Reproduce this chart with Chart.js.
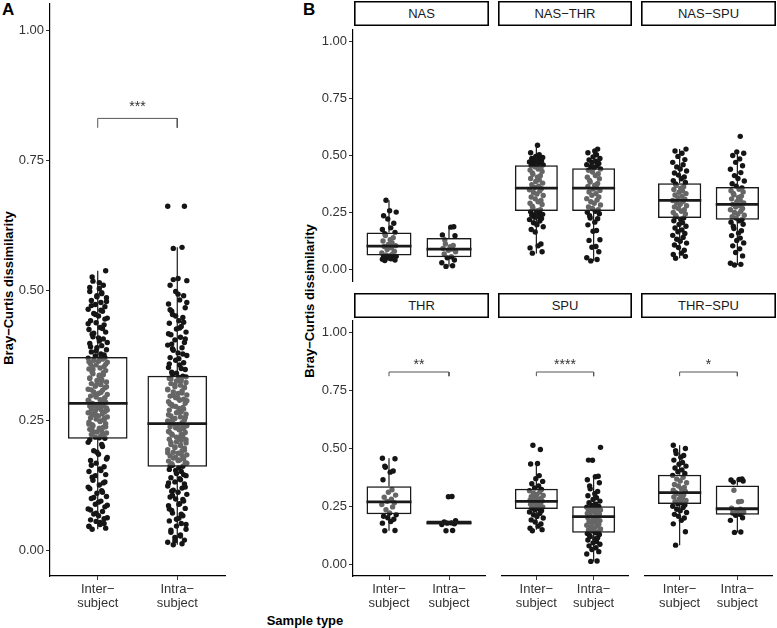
<!DOCTYPE html>
<html>
<head>
<meta charset="utf-8">
<script src="https://cdn.jsdelivr.net/npm/chart.js@4.4.0/dist/chart.umd.min.js"></script>
<style>
body{margin:0;width:777px;height:628px;position:relative;background:#fff;font-family:"Liberation Sans",Arial,sans-serif;overflow:hidden}
canvas{position:absolute}
.strip{position:absolute;box-sizing:border-box;border:1px solid #000;box-shadow:inset 0 0 0 0.6px #000;height:25px;font-size:13px;color:#1a1a1a;text-align:center;line-height:23px}
.tag{position:absolute;font-weight:bold;font-size:17px;color:#000}
.ytitle{position:absolute;font-weight:bold;font-size:13px;color:#000;white-space:nowrap;transform:translate(-50%,-50%) rotate(-90deg)}
.xtitle{position:absolute;font-weight:bold;font-size:13px;color:#000;white-space:nowrap;transform:translate(-50%,-50%)}
</style>
</head>
<body>
<div class="tag" style="left:2px;top:0px">A</div>
<div class="tag" style="left:303px;top:0px">B</div>
<div class="ytitle" style="left:8px;top:288px">Bray−Curtis dissimilarity</div>
<div class="ytitle" style="left:309px;top:301px">Bray−Curtis dissimilarity</div>
<div class="xtitle" style="left:305px;top:620px">Sample type</div>

<div class="strip" style="left:354px;top:1px;width:135px">NAS</div>
<div class="strip" style="left:498px;top:1px;width:134px">NAS−THR</div>
<div class="strip" style="left:641px;top:1px;width:135px">NAS−SPU</div>
<div class="strip" style="left:354px;top:293px;width:135px">THR</div>
<div class="strip" style="left:498px;top:293px;width:134px">SPU</div>
<div class="strip" style="left:641px;top:293px;width:135px">THR−SPU</div>

<canvas id="panelA" width="224" height="616" style="left:5px;top:0px"></canvas>
<canvas id="nas" width="181" height="259" style="left:308px;top:26px"></canvas>
<canvas id="nasThr" width="134" height="259" style="left:498px;top:26px"></canvas>
<canvas id="nasSpu" width="135" height="259" style="left:641px;top:26px"></canvas>
<canvas id="thr" width="181" height="299" style="left:308px;top:317px"></canvas>
<canvas id="spu" width="134" height="299" style="left:498px;top:317px"></canvas>
<canvas id="thrSpu" width="135" height="299" style="left:641px;top:317px"></canvas>

<script>
// tick labels and categories
var yTicks = [0, 0.25, 0.5, 0.75, 1];
var xLabels = [["Inter−", "subject"], ["Intra−", "subject"]];

// box stats per group: [lower whisker, q1, median, q3, upper whisker]
var statsA      = [[0.040, 0.214, 0.282, 0.371, 0.537], [0.010, 0.160, 0.243, 0.335, 0.582]];
var statsNAS    = [[0.040, 0.062, 0.103, 0.163, 0.304], [0.014, 0.054, 0.090, 0.138, 0.188]];
var statsNASTHR = [[0.070, 0.257, 0.357, 0.457, 0.537], [0.038, 0.257, 0.357, 0.444, 0.528]];
var statsNASSPU = [[0.050, 0.226, 0.303, 0.378, 0.528], [0.020, 0.218, 0.286, 0.362, 0.516]];
var statsTHR    = [[0.145, 0.216, 0.270, 0.337, 0.458], [0.172, 0.172, 0.179, 0.189, 0.189]];
var statsSPU    = [[0.150, 0.239, 0.272, 0.326, 0.435], [0.013, 0.137, 0.206, 0.251, 0.380]];
var statsTHRSPU = [[0.083, 0.261, 0.310, 0.387, 0.514], [0.138, 0.214, 0.240, 0.340, 0.369]];

// significance labels
var sigA = "***", sigTHR = "**", sigSPU = "****", sigTHRSPU = "*";

// individual dissimilarities (jittered points)
var aInter = [0.040,0.042,0.046,0.049,0.051,0.055,0.058,0.062,0.066,0.069,0.074,0.079,0.083,0.088,0.094,0.099,0.103,0.109,0.114,0.118,0.125,0.129,0.134,0.140,0.145,0.151,0.156,0.160,0.167,0.172,0.178,0.184,0.191,0.199,0.207,
  0.215,0.217,0.220,0.222,0.225,0.227,0.229,0.232,0.234,0.236,0.239,0.241,0.243,0.246,0.248,0.250,0.252,0.254,0.256,0.258,0.260,0.262,0.264,0.266,0.268,0.270,0.271,0.273,0.275,0.276,0.277,0.279,0.280,0.281,0.282,
  0.284,0.286,0.289,0.291,0.294,0.296,0.299,0.301,0.304,0.307,0.309,0.312,0.315,0.318,0.320,0.323,0.326,0.328,0.331,0.334,0.337,0.339,0.342,0.345,0.348,0.350,0.353,0.356,0.358,0.361,0.363,0.365,0.367,0.369,0.370,
  0.373,0.377,0.381,0.385,0.389,0.393,0.397,0.402,0.406,0.410,0.415,0.419,0.424,0.428,0.433,0.437,0.441,0.446,0.450,0.455,0.459,0.463,0.468,0.472,0.476,0.480,0.485,0.489,0.493,0.497,0.503,0.509,0.517,0.525,0.537,
  0.045,0.053,0.060,0.071,0.077,0.086,0.092,0.101,0.111,0.121,0.131,0.143,0.153,0.163,0.175,0.188,0.203,0.212,
  0.216,0.221,0.226,0.231,0.237,0.242,0.247,0.253,0.259,0.263,0.269,0.274,0.278,0.283,0.288,0.293,0.298,0.303,0.308,0.314,0.319,0.325,0.330,0.336,0.341,0.347,0.352,0.357,0.362,0.368,
  0.375,0.383,0.391,0.399,0.408,0.417,0.426,0.435,0.444,0.453,0.461,0.470,0.478,0.487,0.495,0.505,0.514];
var aIntra = [0.010,0.012,0.015,0.019,0.024,0.029,0.034,0.040,0.046,0.051,0.056,0.061,0.066,0.071,0.076,0.080,0.085,0.089,0.094,0.098,0.102,0.107,0.111,0.115,0.119,0.123,0.127,0.131,0.135,0.139,0.143,0.147,0.151,0.155,0.158,
  0.161,0.163,0.166,0.168,0.171,0.173,0.176,0.178,0.181,0.183,0.186,0.188,0.191,0.193,0.196,0.198,0.201,0.203,0.206,0.208,0.211,0.213,0.216,0.218,0.221,0.223,0.226,0.228,0.231,0.233,0.235,0.237,0.239,0.241,0.243,
  0.245,0.248,0.250,0.253,0.256,0.258,0.261,0.264,0.266,0.269,0.272,0.274,0.277,0.280,0.282,0.285,0.288,0.290,0.293,0.296,0.298,0.301,0.304,0.306,0.309,0.312,0.314,0.317,0.320,0.322,0.325,0.327,0.330,0.332,0.334,
  0.338,0.342,0.347,0.351,0.356,0.360,0.365,0.370,0.374,0.379,0.384,0.389,0.394,0.399,0.404,0.409,0.414,0.419,0.425,0.430,0.436,0.441,0.447,0.453,0.459,0.466,0.473,0.481,0.489,0.497,0.509,0.518,0.522,0.580,0.582,0.661,0.661,
  0.018,0.027,0.038,0.049,0.059,0.069,0.079,0.088,0.097,0.105,0.113,0.121,0.129,0.137,0.145,0.153,
  0.162,0.167,0.172,0.177,0.182,0.187,0.192,0.197,0.202,0.207,0.212,0.217,0.222,0.227,0.232,0.238,0.244,0.249,0.255,0.260,0.265,0.271,0.276,0.281,0.287,0.292,0.297,0.302,0.308,0.313,0.318,0.324,0.329,0.333,
  0.340,0.349,0.358,0.368,0.377,0.387,0.396,0.406,0.416,0.427,0.438,0.450,0.462,0.476,0.492,0.520];
var nasInter = [0.040,0.042,0.045,0.047,0.050,0.052,0.055,0.058,0.061,0.064,0.068,0.073,0.080,0.088,0.096,0.101,0.105,0.110,0.118,0.125,0.131,0.140,0.149,0.157,0.163,0.176,0.183,0.203,0.222,0.236,0.252,0.258,0.304];
var nasIntra = [0.014,0.017,0.030,0.042,0.052,0.056,0.068,0.078,0.085,0.090,0.093,0.100,0.106,0.112,0.130,0.148,0.152,0.186,0.188];
var nasThrInter = [0.072,0.078,0.095,0.104,0.112,0.165,0.176,0.188,0.197,0.205,0.213,0.219,0.224,0.229,0.233,0.238,0.242,0.246,0.250,0.254,0.258,0.263,0.270,0.278,0.285,0.291,0.297,0.303,0.310,0.318,0.325,0.331,0.338,0.344,0.350,0.355,0.360,0.366,0.372,0.379,0.386,0.393,0.399,0.405,0.411,0.418,0.424,0.430,0.436,0.441,0.446,0.450,0.455,0.459,0.462,0.466,0.469,0.472,0.476,0.479,0.483,0.487,0.491,0.496,0.503,0.512,0.545];
var nasThrIntra = [0.038,0.044,0.052,0.078,0.098,0.101,0.128,0.131,0.168,0.171,0.196,0.208,0.223,0.226,0.236,0.245,0.251,0.256,0.262,0.268,0.275,0.283,0.291,0.297,0.305,0.311,0.318,0.326,0.333,0.340,0.347,0.353,0.358,0.364,0.370,0.377,0.384,0.391,0.398,0.405,0.412,0.420,0.428,0.435,0.441,0.446,0.451,0.456,0.460,0.465,0.470,0.475,0.481,0.487,0.494,0.503,0.512,0.520,0.528];
var nasSpuInter = [0.050,0.058,0.066,0.072,0.085,0.097,0.108,0.116,0.124,0.133,0.141,0.150,0.158,0.166,0.174,0.182,0.190,0.198,0.206,0.214,0.220,0.226,0.232,0.238,0.244,0.250,0.256,0.262,0.268,0.274,0.280,0.286,0.292,0.298,0.303,0.309,0.315,0.321,0.327,0.333,0.339,0.345,0.351,0.357,0.363,0.369,0.375,0.382,0.390,0.398,0.406,0.414,0.423,0.432,0.441,0.450,0.460,0.470,0.482,0.496,0.510,0.520,0.528];
var nasSpuIntra = [0.020,0.023,0.028,0.060,0.075,0.091,0.104,0.117,0.128,0.138,0.149,0.160,0.170,0.180,0.190,0.199,0.208,0.214,0.220,0.226,0.232,0.238,0.244,0.250,0.256,0.262,0.268,0.274,0.280,0.286,0.292,0.298,0.304,0.310,0.316,0.322,0.328,0.334,0.340,0.346,0.352,0.358,0.366,0.376,0.388,0.399,0.412,0.425,0.440,0.455,0.470,0.485,0.500,0.510,0.516,0.584];
var thrInter = [0.145,0.146,0.178,0.185,0.195,0.201,0.208,0.214,0.222,0.236,0.248,0.258,0.266,0.272,0.281,0.290,0.299,0.311,0.322,0.365,0.398,0.403,0.419,0.424,0.456,0.458];
var thrIntra = [0.145,0.146,0.172,0.175,0.178,0.179,0.183,0.189,0.292,0.293];
var spuInter = [0.145,0.150,0.156,0.165,0.174,0.183,0.192,0.200,0.207,0.214,0.220,0.226,0.231,0.236,0.240,0.244,0.248,0.252,0.256,0.259,0.262,0.265,0.268,0.271,0.274,0.277,0.280,0.284,0.288,0.292,0.297,0.302,0.307,0.312,0.318,0.323,0.330,0.338,0.348,0.358,0.370,0.383,0.433,0.435,0.496,0.514];
var spuIntra = [0.013,0.015,0.045,0.055,0.064,0.072,0.080,0.087,0.093,0.099,0.105,0.110,0.115,0.120,0.125,0.129,0.133,0.137,0.141,0.145,0.149,0.153,0.157,0.161,0.165,0.169,0.173,0.177,0.181,0.185,0.189,0.193,0.197,0.201,0.205,0.208,0.211,0.214,0.217,0.220,0.223,0.226,0.229,0.232,0.235,0.238,0.241,0.244,0.247,0.250,0.254,0.260,0.266,0.273,0.280,0.288,0.296,0.305,0.315,0.326,0.338,0.352,0.365,0.378,0.380,0.449,0.450,0.505];
var thrSpuInter = [0.083,0.141,0.175,0.190,0.200,0.208,0.216,0.224,0.231,0.238,0.245,0.251,0.256,0.261,0.266,0.271,0.276,0.281,0.286,0.291,0.296,0.300,0.305,0.310,0.315,0.320,0.326,0.332,0.338,0.345,0.352,0.360,0.368,0.376,0.384,0.392,0.400,0.408,0.416,0.424,0.432,0.440,0.450,0.462,0.470,0.478,0.490,0.500,0.514];
var thrSpuIntra = [0.138,0.140,0.190,0.201,0.212,0.216,0.222,0.226,0.232,0.238,0.242,0.270,0.272,0.320,0.355,0.360,0.364,0.366,0.369];

// horizontal jitter offsets (category units), cycled through
var jitter = [-0.07,0.10,-0.11,0.03,0.08,-0.02,-0.09,0.12,0.01,-0.05,0.06,-0.12,0.09,-0.03,0.04,-0.08,0.11,-0.01,0.05,-0.10,0.02,0.07,-0.06];

Chart.defaults.font.family = '"Liberation Sans", Arial, sans-serif';
Chart.defaults.animation = false;

var sigPlugin = {
    id: 'sigText',
    afterDatasetsDraw: function(chart, args, opts)
    {
        if (!opts.text) return;
        var ctx = chart.ctx;
        ctx.save();
        ctx.font = '14px "Liberation Sans", Arial, sans-serif';
        ctx.fillStyle = '#333';
        ctx.textAlign = 'center';
        ctx.textBaseline = 'alphabetic';
        ctx.fillText(opts.text, chart.scales.x.getPixelForValue(1.5), chart.scales.y.getPixelForValue(0.83) - opts.gap);
        ctx.restore();
    }
};

function segment(points, width, order, color)
{
    return {
        type: 'line',
        order: order,
        data: points.map(function(p) { return {x: p[0], y: p[1]}; }),
        borderColor: color || '#1a1a1a',
        borderWidth: width,
        pointRadius: 0,
        fill: false
    };
}

function BoxPanel(id, stats, groups, o)
{
    var datasets = [];
    groups.forEach(function(vals, g)
    {
        datasets.push({
            type: 'scatter',
            order: 6,
            data: vals.map(function(v, i) { return {x: g + 1 + jitter[(i + g * 9) % jitter.length], y: v}; }),
            pointRadius: 2.7,
            pointBackgroundColor: '#151515',
            pointBorderWidth: 0
        });
    });
    stats.forEach(function(s, g)
    {
        var x = g + 1;
        datasets.push(segment([[x, s[3]], [x, s[4]]], 1.2, 5));
        datasets.push(segment([[x, s[1]], [x, s[0]]], 1.2, 5));
        datasets.push(segment([[x - 0.375, s[2]], [x + 0.375, s[2]]], 2.8, 2));
    });
    datasets.push({
        type: 'bar',
        order: 3,
        data: stats.map(function(s, g) { return {x: g + 1, y: [s[1], s[3]]}; }),
        backgroundColor: 'rgba(255,255,255,0.35)',
        borderColor: '#1a1a1a',
        borderWidth: 1.5,
        borderSkipped: false,
        barPercentage: 0.75,
        categoryPercentage: 1
    });
    if (o.sig) datasets.push(segment([[1, 0.812], [1, 0.83], [2, 0.83], [2, 0.812]], 1, 1, '#555'));

    new Chart(id, {
        type: 'scatter',
        data: { datasets: datasets },
        plugins: [sigPlugin],
        options: {
            responsive: false,
            events: [],
            layout: { padding: 0 },
            plugins: {
                legend: { display: false },
                tooltip: { enabled: false },
                sigText: { text: o.sig, gap: o.gap || 3 }
            },
            scales: {
                x: {
                    type: 'linear', min: 0.4, max: 2.6, offset: false, display: o.showX,
                    afterBuildTicks: function(s) { s.ticks = [{value: 1}, {value: 2}]; },
                    afterFit: function(s) { s.height = o.showX ? 40 : 0; s.paddingLeft = 0; s.paddingRight = 0; },
                    border: { display: true, color: '#000', width: 1.2 },
                    grid: { offset: false, drawOnChartArea: false, drawTicks: true, tickLength: 4, color: '#333' },
                    ticks: { autoSkip: false, maxRotation: 0, padding: 2, color: '#333', font: { size: 13, lineHeight: 1.1 },
                             callback: function(v, i) { return xLabels[i]; } }
                },
                y: {
                    min: -0.05, max: 1.05, display: o.showY,
                    afterBuildTicks: function(s) { s.ticks = yTicks.map(function(v) { return {value: v}; }); },
                    afterFit: function(s) { s.width = o.showY ? 45 : 0; s.paddingTop = 0; s.paddingBottom = 0; },
                    border: { display: true, color: '#000', width: 1.2 },
                    grid: { drawOnChartArea: false, drawTicks: true, tickLength: 4, color: '#333' },
                    ticks: { padding: 2, color: '#333', font: { size: 13 },
                             callback: function(v) { return v.toFixed(2); } }
                }
            }
        }
    });
}

BoxPanel('panelA', statsA, [aInter, aIntra], { showX: true, showY: true, sig: sigA, gap: 7 });
BoxPanel('nas', statsNAS, [nasInter, nasIntra], { showX: false, showY: true });
BoxPanel('nasThr', statsNASTHR, [nasThrInter, nasThrIntra], { showX: false, showY: false });
BoxPanel('nasSpu', statsNASSPU, [nasSpuInter, nasSpuIntra], { showX: false, showY: false });
BoxPanel('thr', statsTHR, [thrInter, thrIntra], { showX: true, showY: true, sig: sigTHR, gap: 3 });
BoxPanel('spu', statsSPU, [spuInter, spuIntra], { showX: true, showY: false, sig: sigSPU, gap: 3 });
BoxPanel('thrSpu', statsTHRSPU, [thrSpuInter, thrSpuIntra], { showX: true, showY: false, sig: sigTHRSPU, gap: 3 });
</script>
</body>
</html>
